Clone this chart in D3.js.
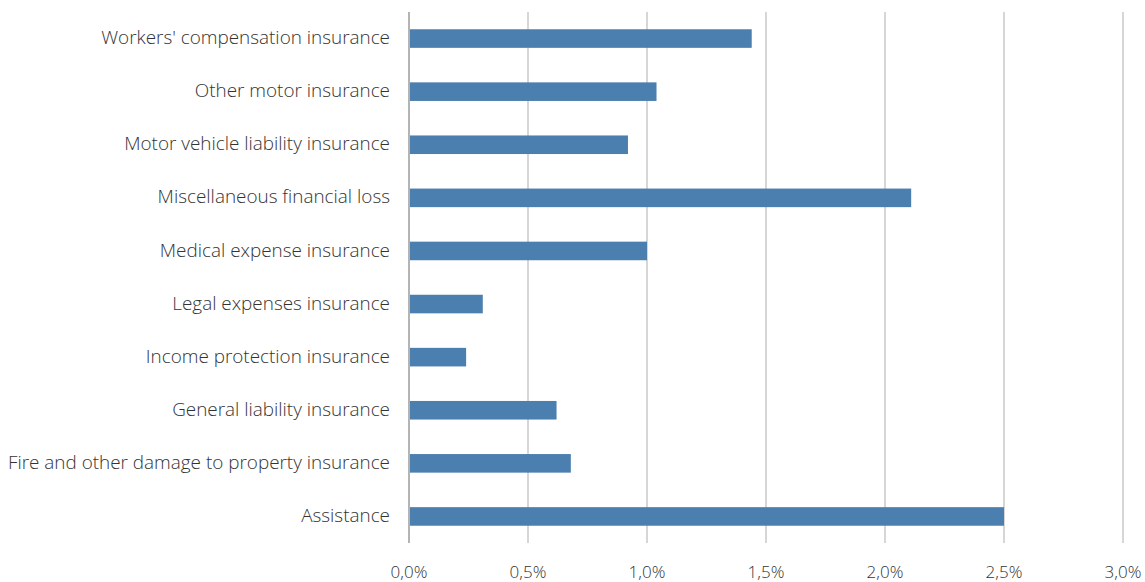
<!DOCTYPE html>
<html>
<head>
<meta charset="utf-8">
<script src="https://cdn.jsdelivr.net/npm/d3@7"></script>
<style>
  body { margin: 0; background: #fff; }
  text { font-family: "Open Sans", sans-serif; font-weight: 300; fill: #333; }
</style>
</head>
<body>
<div id="chart"></div>
<script>
// categories from top to bottom
const categories = [
  "Workers' compensation insurance",
  "Other motor insurance",
  "Motor vehicle liability insurance",
  "Miscellaneous financial loss",
  "Medical expense insurance",
  "Legal expenses insurance",
  "Income protection insurance",
  "General liability insurance",
  "Fire and other damage to property insurance",
  "Assistance"
];
const values = [1.44, 1.04, 0.92, 2.11, 1.0, 0.31, 0.24, 0.62, 0.68, 2.5];
const ticks = [0, 0.5, 1.0, 1.5, 2.0, 2.5, 3.0];

const width = 1145, height = 582;
const margin = {top: 12, right: 22, bottom: 39, left: 409};

const svg = d3.select("#chart").append("svg")
  .attr("width", width)
  .attr("height", height);

const x = d3.scaleLinear().domain([0, 3]).range([margin.left, width - margin.right]);
const y = d3.scaleBand().domain(categories).range([margin.top, height - margin.bottom]).paddingInner(0.65).paddingOuter(0.325);

// gridlines
svg.append("g").selectAll("line")
  .data(ticks)
  .enter().append("line")
  .attr("x1", d => x(d)).attr("x2", d => x(d))
  .attr("y1", margin.top).attr("y2", height - margin.bottom)
  .attr("stroke", d => d === 0 ? "#8c8c8c" : "#c0c0c0")
  .attr("stroke-width", 1.3);

// bars
svg.append("g").selectAll("rect")
  .data(values)
  .enter().append("rect")
  .attr("x", x(0) + 1)
  .attr("y", (d, i) => y(categories[i]))
  .attr("width", d => x(d) - x(0) - 1)
  .attr("height", y.bandwidth())
  .attr("fill", "#4b7fb0");

// category labels
svg.append("g").selectAll("text")
  .data(categories)
  .enter().append("text")
  .attr("x", margin.left - 19)
  .attr("y", d => y(d) + y.bandwidth() / 2 - 1)
  .attr("dy", "0.35em")
  .attr("text-anchor", "end")
  .style("font-size", "18.9px")
  .text(d => d);

// x tick labels
const fmt = d => d.toFixed(1).replace(".", ",") + "%";
svg.append("g").selectAll("text")
  .data(ticks)
  .enter().append("text")
  .attr("x", d => x(d))
  .attr("y", 578)
  .attr("text-anchor", "middle")
  .style("font-size", "17px")
  .text(fmt);
</script>
</body>
</html>
